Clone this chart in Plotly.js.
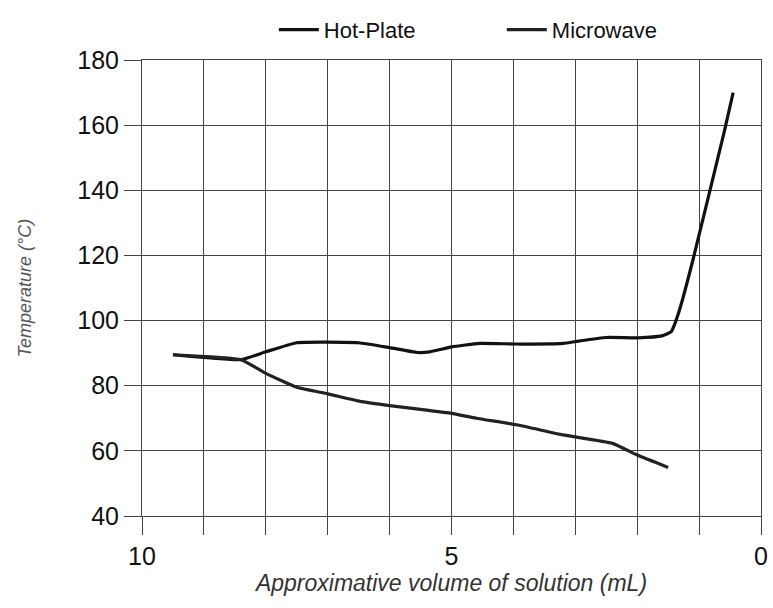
<!DOCTYPE html>
<html>
<head>
<meta charset="utf-8">
<script src="https://cdn.plot.ly/plotly-3.0.1.min.js"></script>
<style>html,body{margin:0;padding:0;background:#fff;}#chart{width:773px;height:608px;}</style>
</head>
<body>
<div id="chart"></div>
<script>
const hotPlateVolume = [9.5, 8.4, 8.0, 7.5, 6.5, 6.0, 5.55, 5.35, 5.0, 4.55, 3.95, 3.2, 2.95, 2.5, 2.0, 1.6, 1.45, 1.4, 1.3, 1.1, 0.6, 0.45];
const hotPlateTemp   = [89.5, 88, 90.4, 93.2, 93.2, 91.7, 90.2, 90.4, 91.9, 93, 92.8, 93, 93.7, 94.8, 94.7, 95.3, 96.6, 98.6, 104.3, 118.6, 157.5, 170];
const microwaveVolume = [9.5, 8.4, 8.0, 7.5, 7.0, 6.45, 6.0, 5.4, 5.0, 4.6, 3.95, 3.2, 2.4, 2.0, 1.5];
const microwaveTemp   = [89.5, 88, 83.8, 79.5, 77.5, 75.1, 73.9, 72.5, 71.5, 70, 68, 64.9, 62.3, 58.7, 54.9];
const xTickVals = [0, 1, 2, 3, 4, 5, 6, 7, 8, 9, 10];
const xTickText = ['0', '', '', '', '', '5', '', '', '', '', '10'];
const yTickVals = [40, 60, 80, 100, 120, 140, 160, 180];

const font = 'Liberation Sans Narrow, Liberation Sans, Arial, sans-serif';
const lineStyle = {color: '#111', width: 3.2, shape: 'spline', smoothing: 0.4};

const data = [
  {x: hotPlateVolume, y: hotPlateTemp, name: 'Hot-Plate', mode: 'lines', line: lineStyle},
  {x: microwaveVolume, y: microwaveTemp, name: 'Microwave', mode: 'lines', line: Object.assign({}, lineStyle, {color: '#222'})}
];

const layout = {
  width: 773, height: 608,
  margin: {l: 142, r: 12, t: 60, b: 92},
  paper_bgcolor: '#fff', plot_bgcolor: '#fff',
  font: {family: font, color: '#111', size: 24},
  showlegend: true,
  legend: {orientation: 'h', x: 0.213, xanchor: 'left', y: 0.951, yref: 'container', yanchor: 'middle',
           font: {family: font, size: 22, color: '#111'}, itemwidth: 40, tracegroupgap: 0,
           entrywidth: 173, entrywidthmode: 'pixels'},
  xaxis: {
    range: [10, 0], tickvals: xTickVals, ticktext: xTickText,
    showgrid: true, gridcolor: '#444', gridwidth: 1,
    ticks: 'outside', ticklen: 18, tickcolor: '#444', tickwidth: 1,
    showline: true, linecolor: '#444', linewidth: 1, mirror: true,
    zeroline: false, tickfont: {family: font, size: 25, color: '#111'},
    ticklabeloverflow: 'allow',
    title: {text: 'Approximative volume of solution (mL)', standoff: 2,
            font: {family: font, size: 23, color: '#333', style: 'italic'}}
  },
  yaxis: {
    range: [40, 180], tickvals: yTickVals,
    showgrid: true, gridcolor: '#444', gridwidth: 1,
    ticks: 'outside', ticklen: 17, tickcolor: '#444', tickwidth: 1,
    showline: true, linecolor: '#444', linewidth: 1, mirror: true,
    zeroline: false, tickfont: {family: font, size: 25, color: '#111'},
    title: {text: 'Temperature (°C)', standoff: 40,
            font: {family: font, size: 18, color: '#555', style: 'italic'}}
  }
};

Plotly.newPlot('chart', data, layout, {staticPlot: true, displayModeBar: false});
</script>
</body>
</html>
